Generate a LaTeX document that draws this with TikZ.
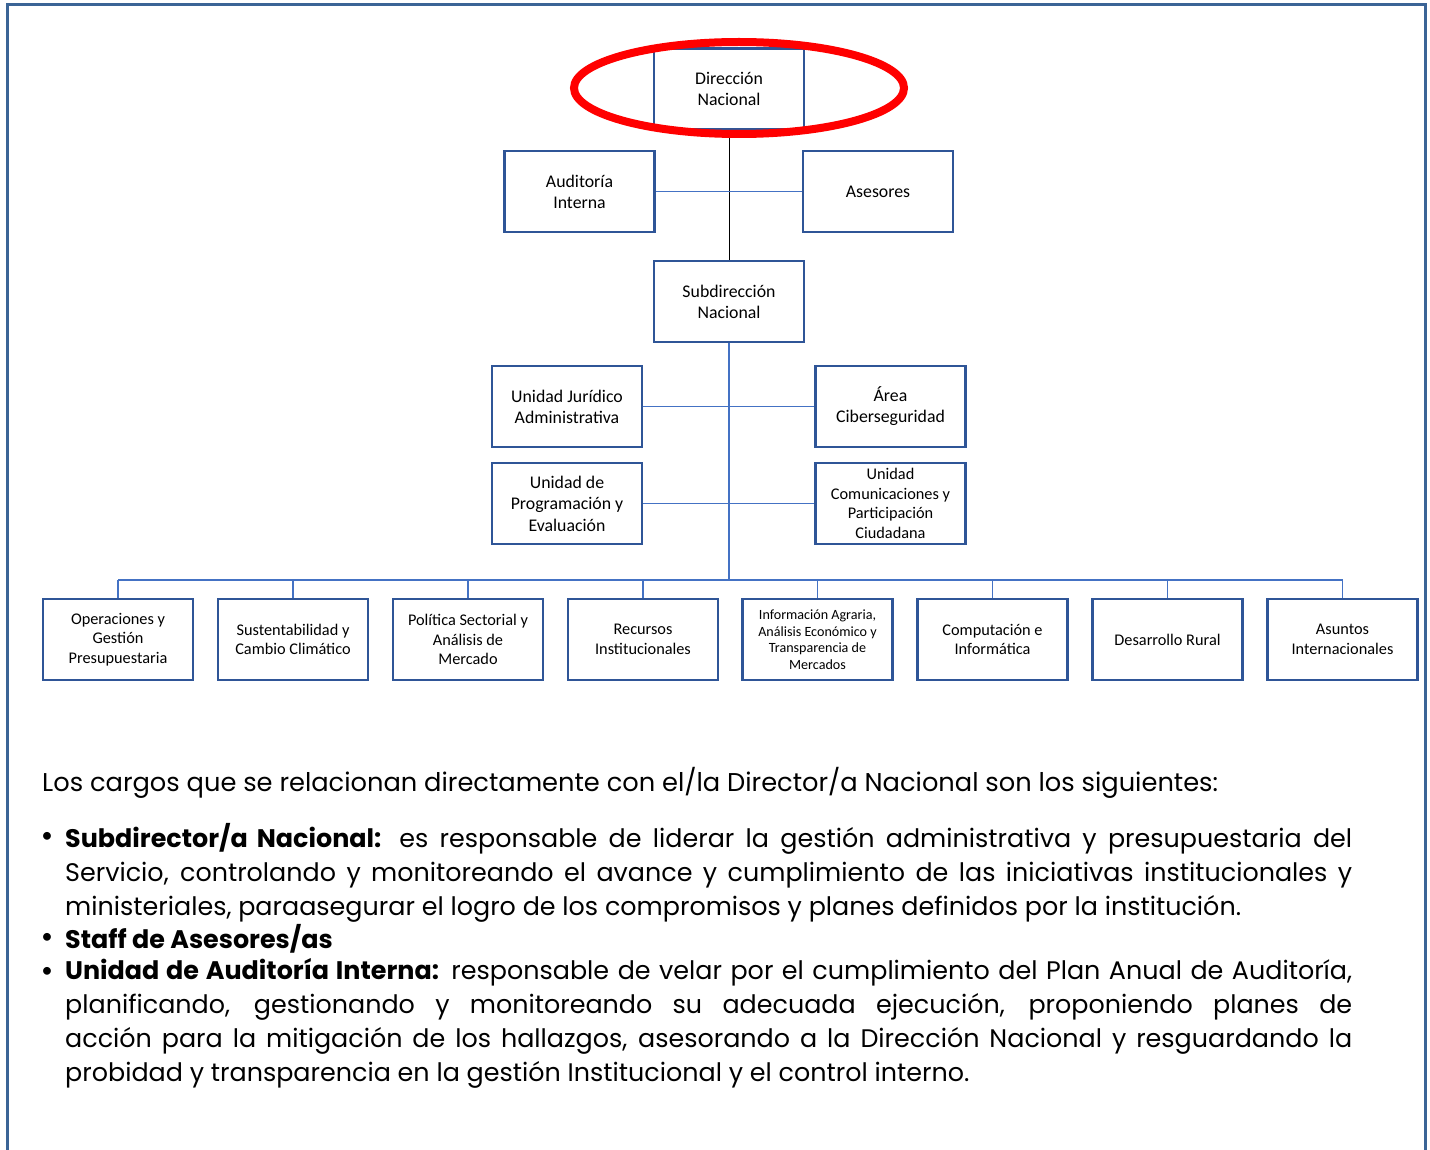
\documentclass[tikz,border=0pt]{standalone}
\usepackage{fontspec}
\setmainfont{Carlito}
\newfontfamily\bodyfont{Poppins}
\usetikzlibrary{positioning}

\definecolor{framecol}{RGB}{59,100,150}
\definecolor{boxcol}{RGB}{47,85,151}
\definecolor{linkcol}{RGB}{68,114,196}

\newcommand{\nohyph}{\hyphenpenalty=10000\relax\tolerance=10000\relax\emergencystretch=20pt\relax}

\tikzset{
  unitbox/.style={draw=boxcol, line width=2.8pt, minimum width=150pt,
    minimum height=81pt, align=center, inner sep=2pt, font=\fontsize{17.8}{21}\selectfont},
  smallbox/.style={unitbox, font=\fontsize{16.3}{19.5}\selectfont},
  tinybox/.style={unitbox, font=\fontsize{14.1}{16.6}\selectfont},
  link/.style={draw=linkcol, line width=1.4pt},
  para/.style={anchor=north west, inner sep=0pt, text width=1287pt, align=justify,
    font=\bodyfont\fontsize{25.4}{34}\selectfont},
}

\begin{document}
\begin{tikzpicture}[x=1pt,y=-1pt]
\useasboundingbox (0,0) rectangle (1430,1150);
\draw[framecol, line width=3pt] (7,1152) -- (7,5) -- (1425,5) -- (1425,1152);

% top of the chart
\node[unitbox] (dn) at (729,89) {Dirección\\Nacional};
\node[unitbox] (ai) at (579.5,191.5) {Auditoría\\Interna};
\node[unitbox] (as) at (878,191.5) {Asesores};
\node[unitbox] (sn) at (729,301.5) {Subdirección\\Nacional};

\node[unitbox] (ujd) at (567,406.5) {Unidad Jurídico\\Administrativa};
\node[unitbox] (ac) at (890.5,406.5) {Área\\Ciberseguridad};
\node[unitbox, font=\fontsize{17.8}{21.5}\selectfont] (upe) at (567,503.5) {Unidad de\\Programación y\\Evaluación};
\node[smallbox] (ucp) at (890.5,503.5) {Unidad\\Comunicaciones y\\Participación\\Ciudadana};

% departments
\node[smallbox] (d1) at (118,639.5) {Operaciones y\\Gestión\\Presupuestaria};
\node[smallbox] (d2) at (293,639.5) {Sustentabilidad y\\Cambio Climático};
\node[smallbox] (d3) at (468,639.5) {Política Sectorial y\\Análisis de\\Mercado};
\node[smallbox] (d4) at (643,639.5) {Recursos\\Institucionales};
\node[tinybox] (d5) at (817.5,639.5) {Información Agraria,\\Análisis Económico y\\Transparencia de\\Mercados};
\node[smallbox] (d6) at (992.5,639.5) {Computación e\\Informática};
\node[smallbox] (d7) at (1167.5,639.5) {Desarrollo Rural};
\node[smallbox] (d8) at (1342.5,639.5) {Asuntos\\Internacionales};

\coordinate (bus) at (729,580);

\path[draw,black,line width=1pt] (dn) -- (sn);
\path[link] (ai) -- (as);
\path[link] (sn) -- (bus);
\path[link] (ujd) -- (ac);
\path[link] (upe) -- (ucp);
\path[link] (d1 |- bus) -- (d8 |- bus);
\path[link] (d1) -- (d1 |- bus);
\path[link] (d2) -- (d2 |- bus);
\path[link] (d3) -- (d3 |- bus);
\path[link] (d4) -- (d4 |- bus);
\path[link] (d5) -- (d5 |- bus);
\path[link] (d6) -- (d6 |- bus);
\path[link] (d7) -- (d7 |- bus);
\path[link] (d8) -- (d8 |- bus);

\draw[red, line width=8pt] (739,88) ellipse (165 and 46);

% text below
\node[anchor=west, inner sep=0pt, font=\bodyfont\fontsize{25.7}{34}\selectfont] (intro) at (42,783)
  {Los cargos que se relacionan directamente con el/la Director/a Nacional son los siguientes:};

\node[para] (t1) at (65,823) {\nohyph\textbf{Subdirector/a Nacional:} es responsable de liderar la gestión administrativa y presupuestaria del\linebreak Servicio, controlando y monitoreando el avance y cumplimiento de las iniciativas institucionales y\linebreak ministeriales, paraasegurar el logro de los compromisos y planes definidos por la institución.};
\node[para] (t2) at (65,924) {\textbf{Staff de Asesores/as}};
\node[para] (t3) at (65,958) {\nohyph\textbf{Unidad de Auditoría Interna:} responsable de velar por el cumplimiento del Plan Anual de Auditoría,\linebreak planificando, gestionando y monitoreando su adecuada ejecución, proponiendo planes de\linebreak acción para la mitigación de los hallazgos, asesorando a la Dirección Nacional y resguardando la\linebreak probidad y transparencia en la gestión Institucional y el control interno.};

\node[font=\fontsize{22}{22}\selectfont, inner sep=0pt] (p1) at (47,837) {\textbullet};
\node[font=\fontsize{22}{22}\selectfont, inner sep=0pt] (p2) at (47,938) {\textbullet};
\node[font=\fontsize{22}{22}\selectfont, inner sep=0pt] (p3) at (47,972) {\textbullet};
\end{tikzpicture}
\end{document}
